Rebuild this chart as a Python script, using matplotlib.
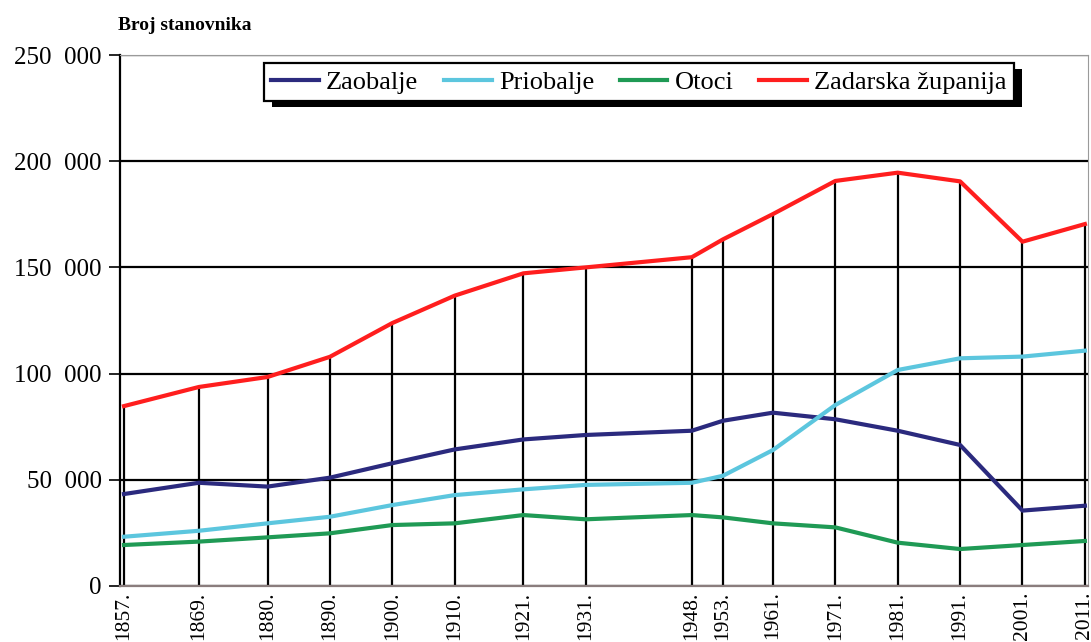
import matplotlib
matplotlib.use("Agg")
import matplotlib.pyplot as plt
from matplotlib.ticker import FuncFormatter
from matplotlib.patches import Rectangle
from matplotlib.transforms import IdentityTransform

years = [1857, 1869, 1880, 1890, 1900, 1910, 1921, 1931, 1948, 1953, 1961, 1971, 1981, 1991, 2001, 2011]
year_labels = [f"{y}." for y in years]

zaobalje = [43300, 48600, 46800, 51000, 57800, 64300, 69000, 71100, 73100, 77800, 81600, 78500, 73100, 66400, 35500, 37800]
priobalje = [23200, 26000, 29500, 32600, 38100, 42800, 45500, 47600, 48600, 51900, 64000, 85200, 101700, 107200, 108000, 110800]
otoci = [19300, 20900, 22900, 24800, 28700, 29500, 33400, 31400, 33400, 32300, 29500, 27600, 20400, 17400, 19300, 21200]
zadarska = [84700, 93700, 98400, 107900, 123800, 136700, 147200, 150000, 154800, 163200, 175100, 190700, 194600, 190500, 162100, 170400]

series_names = ["Zaobalje", "Priobalje", "Otoci", "Zadarska županija"]
series_colors = ["#2B2A7E", "#5CC6DE", "#1F9A55", "#FF1E1E"]
y_ticks = [0, 50000, 100000, 150000, 200000, 250000]

plt.rcParams['font.family'] = ['Liberation Serif', 'DejaVu Serif']

fig = plt.figure(figsize=(10.91, 6.42), dpi=100)
ax = fig.add_axes([120/1091, 1-586/642, (1088-120)/1091, (586-55)/642])

ax.set_xlim(1856.36, 2011.5)
ax.set_ylim(0, 250000)

ax.set_yticks(y_ticks)
ax.yaxis.set_major_formatter(FuncFormatter(lambda v, p: "0" if v == 0 else f"{int(v):,}".replace(",", "  ")))
ax.tick_params(axis='y', labelsize=18, length=8, width=1.2, color='black', pad=5)
ax.set_xticks(years)
ax.set_xticklabels(year_labels, rotation=90, fontsize=15.5)
ax.tick_params(axis='x', length=0, pad=4)

ax.yaxis.grid(True, color='black', lw=1.6)
ax.set_axisbelow(True)

ax.vlines(years, 0, zadarska, color='black', lw=1.6, zorder=2)

for vals, name, col in zip([zaobalje, priobalje, otoci, zadarska], series_names, series_colors):
    ax.plot(years, vals, color=col, lw=3, label=name, zorder=3, solid_joinstyle='round')

ax.spines['left'].set_color('black')
ax.spines['left'].set_linewidth(1.6)
ax.spines['bottom'].set_color('#8a7d7d')
ax.spines['bottom'].set_linewidth(1.6)
ax.spines['top'].set_color('#9a9a9a')
ax.spines['right'].set_color('#9a9a9a')

leg = ax.legend(loc='upper center', bbox_to_anchor=(0.5, 0.985), ncol=4, fontsize=19,
                frameon=True, fancybox=False, shadow=False,
                handlelength=1.8, handletextpad=0.27, columnspacing=0.98,
                borderpad=0.28, borderaxespad=0)
leg.get_frame().set_edgecolor('black')
leg.get_frame().set_linewidth(1.6)
leg.get_frame().set_alpha(1)
leg.set_zorder(6)

fig.canvas.draw()
bb = leg.get_window_extent()
# place legend so its left edge is at x=264 px and top at y=63 px
target_left = 264
target_top = 642 - 63
dx = target_left - bb.x0
dy = target_top - bb.y1
ax_bb = ax.get_window_extent()
cx = (bb.x0 + bb.x1) / 2 + dx
ty = bb.y1 + dy
leg.set_bbox_to_anchor(((cx - ax_bb.x0) / ax_bb.width, (ty - ax_bb.y0) / ax_bb.height), transform=ax.transAxes)
fig.canvas.draw()
bb = leg.get_window_extent()
shadow = Rectangle((bb.x0 + 8, bb.y0 - 6), bb.width, bb.height, transform=IdentityTransform(),
                   facecolor='black', edgecolor='none', zorder=5.5, clip_on=False)
ax.add_artist(shadow)

fig.text(118/1091, 1-25/642, "Broj stanovnika", fontsize=14, fontweight='bold', va='center', ha='left')

fig.savefig("out.png", dpi=100, facecolor='white')
